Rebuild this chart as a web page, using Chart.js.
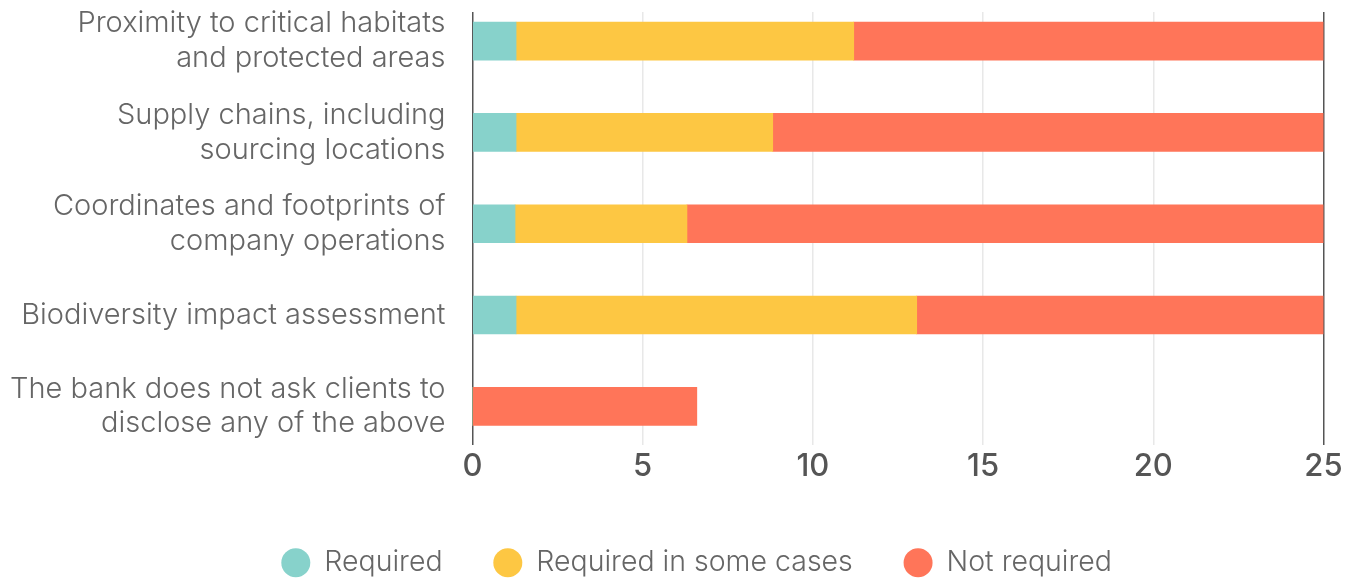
<!DOCTYPE html>
<html>
<head>
<meta charset="utf-8">
<script src="https://cdn.jsdelivr.net/npm/chart.js@4"></script>
<style>
  body { margin: 0; background: #fff; }
  #wrap { width: 1354px; height: 580px; }
</style>
</head>
<body>
<div id="wrap"><canvas id="grafico"></canvas></div>
<script>
// categorias (cada una en sus líneas) y valores de cada serie
const categorias = [
    ['Proximity to critical habitats', 'and protected areas'],
    ['Supply chains, including', 'sourcing locations'],
    ['Coordinates and footprints of', 'company operations'],
    ['Biodiversity impact assessment'],
    ['The bank does not ask clients to', 'disclose any of the above']
];
const requerido = [1.28, 1.28, 1.25, 1.28, 0];
const algunosCasos = [9.92, 7.54, 5.05, 11.77, 0];
const noRequerido = [13.8, 16.18, 18.7, 11.95, 6.59];
const ticksX = [0, 5, 10, 15, 20, 25];

const series = [
    { nombre: 'Required', valores: requerido, color: '#87d2cb' },
    { nombre: 'Required in some cases', valores: algunosCasos, color: '#fdc743' },
    { nombre: 'Not required', valores: noRequerido, color: '#ff7559' }
];

const fuente = "Inter, 'Open Sans', sans-serif";

// la leyenda del original está algo desplazada a la derecha
const moverLeyenda = {
    id: 'moverLeyenda',
    afterLayout(chart) {
        chart.legend.left += 35;
        chart.legend.right += 35;
    }
};

function graficar() {
    const ctx = document.getElementById('grafico').getContext('2d');
    new Chart(ctx, {
        type: 'bar',
        data: {
            datasets: series.map(s => ({
                label: s.nombre,
                data: s.valores.map((v, i) => ({ x: v, y: i })),
                backgroundColor: s.color,
                borderWidth: 0,
                barThickness: 38
            }))
        },
        plugins: [moverLeyenda],
        options: {
            indexAxis: 'y',
            responsive: true,
            maintainAspectRatio: false,
            animation: false,
            layout: { padding: { left: 0, right: 30.5, top: 12, bottom: -7 } },
            scales: {
                x: {
                    stacked: true,
                    min: 0,
                    max: 25,
                    afterBuildTicks: scale => { scale.ticks = ticksX.map(v => ({ value: v })); },
                    afterFit: scale => { scale.height = 53; },
                    border: { display: false },
                    grid: {
                        drawTicks: false,
                        lineWidth: 1.5,
                        color: c => (c.tick && (c.tick.value === 0 || c.tick.value === 25)) ? '#555555' : '#e8e8e8'
                    },
                    ticks: {
                        padding: 4,
                        color: '#555555',
                        font: { family: fuente, size: 31, weight: '500' }
                    }
                },
                y: {
                    type: 'linear',
                    stacked: true,
                    reverse: true,
                    offset: false,
                    min: -0.319,
                    max: 4.418,
                    afterBuildTicks: scale => { scale.ticks = categorias.map((_, i) => ({ value: i })); },
                    afterFit: scale => {
                        scale.width = 472.5;
                        scale.paddingTop = 0;
                        scale.paddingBottom = 0;
                    },
                    border: { display: false },
                    grid: { display: false, drawTicks: false },
                    ticks: {
                        padding: 27,
                        color: '#666666',
                        font: { family: fuente, size: 29, weight: '300', lineHeight: 1.2 },
                        callback: v => categorias[v] || ''
                    }
                }
            },
            plugins: {
                tooltip: { enabled: false },
                legend: {
                    position: 'bottom',
                    labels: {
                        usePointStyle: true,
                        pointStyle: 'circle',
                        boxWidth: 29,
                        boxHeight: 20.5,
                        padding: 51,
                        color: '#666666',
                        font: { family: fuente, size: 28.5, weight: '300' }
                    }
                }
            }
        }
    });
}

window.onload = function() {
    graficar();
};
</script>
</body>
</html>
